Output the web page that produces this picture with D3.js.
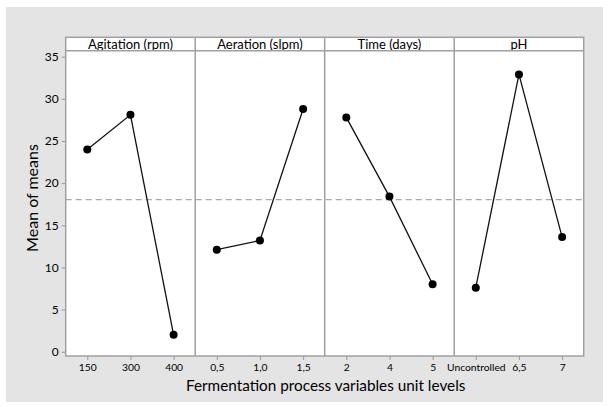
<!DOCTYPE html>
<html><head><meta charset="utf-8">
<script src="https://cdn.jsdelivr.net/npm/d3@7"></script>
<style>body{margin:0;background:#fff;} text{font-family:Lato,"Open Sans",sans-serif;}</style>
</head><body><svg id="c" width="610" height="407"></svg>
<script>
const panels = ["Agitation (rpm)", "Aeration (slpm)", "Time (days)", "pH"];
const levels = [["150","300","400"],["0,5","1,0","1,5"],["2","4","5"],["Uncontrolled","6,5","7"]];
const means = [[24.0,28.1,2.0],[12.1,13.2,28.8],[27.8,18.4,8.0],[7.6,32.9,13.6]];
const grandMean = 18.05;
const yTicks = [0,5,10,15,20,25,30,35];

const svg = d3.select("#c");
svg.append("rect").attr("x",6).attr("y",7).attr("width",597).attr("height",395).attr("fill","#e4e4e4");

const L=65.7, R=583.7, T=50.7, B=356, HT=37.3;
const y = d3.scaleLinear().domain([0,35]).range([351.7,56.7]);
const px = d3.scaleBand().domain(panels).range([L,R]).paddingInner(0).paddingOuter(0);
const bw = px.bandwidth();

svg.append("rect").attr("x",L).attr("y",HT).attr("width",R-L).attr("height",B-HT).attr("fill","#fff");

svg.append("line").attr("x1",L).attr("x2",R).attr("y1",y(grandMean)).attr("y2",y(grandMean))
  .attr("stroke","#a8a8a8").attr("stroke-width",1.3).attr("stroke-dasharray","6,4");

const ya = svg.append("g").attr("transform",`translate(${L},0)`).call(d3.axisLeft(y).tickValues(yTicks).tickSize(4).tickPadding(3));
ya.select(".domain").remove();
ya.selectAll("line").attr("stroke","#999");
ya.selectAll("text").attr("font-size",12).attr("fill","#000").attr("font-family","Lato,sans-serif");

panels.forEach((p,i)=>{
  const x0 = px(p);
  const xs = d3.scalePoint().domain(levels[i]).range([x0,x0+bw]).padding(0.5);
  const xa = svg.append("g").attr("transform",`translate(0,${B})`).call(d3.axisBottom(xs).tickSize(4).tickPadding(3.5));
  xa.select(".domain").remove();
  xa.selectAll("line").attr("stroke","#999");
  xa.selectAll("text").attr("font-size",10.3).attr("fill","#000").attr("font-family","Lato,sans-serif");
  svg.append("text").attr("x",x0+bw/2).attr("y",(HT+T)/2+4.6).attr("text-anchor","middle")
    .attr("font-size",13).attr("fill","#000").text(p);
  const pts = levels[i].map((l,j)=>[xs(l), y(means[i][j])]);
  svg.append("path").attr("d",d3.line()(pts)).attr("fill","none").attr("stroke","#111").attr("stroke-width",1.3);
  svg.selectAll(null).data(pts).enter().append("circle").attr("cx",d=>d[0]).attr("cy",d=>d[1]).attr("r",4).attr("fill","#000");
  if(i>0){
    svg.append("line").attr("x1",x0).attr("x2",x0).attr("y1",HT).attr("y2",B).attr("stroke","#a0a0a0").attr("stroke-width",1.5);
  }
});
svg.append("line").attr("x1",L).attr("x2",R).attr("y1",T).attr("y2",T).attr("stroke","#a0a0a0").attr("stroke-width",1.5);
svg.append("rect").attr("x",L).attr("y",HT).attr("width",R-L).attr("height",B-HT).attr("fill","none").attr("stroke","#a0a0a0").attr("stroke-width",1.5);

svg.append("text").attr("x",(L+R)/2+1).attr("y",391).attr("text-anchor","middle").attr("font-size",15.3).attr("fill","#000")
  .text("Fermentation process variables unit levels");
svg.append("text").attr("transform",`translate(38,${198}) rotate(-90)`).attr("text-anchor","middle").attr("font-size",16).attr("fill","#000")
  .text("Mean of means");
</script></body></html>
